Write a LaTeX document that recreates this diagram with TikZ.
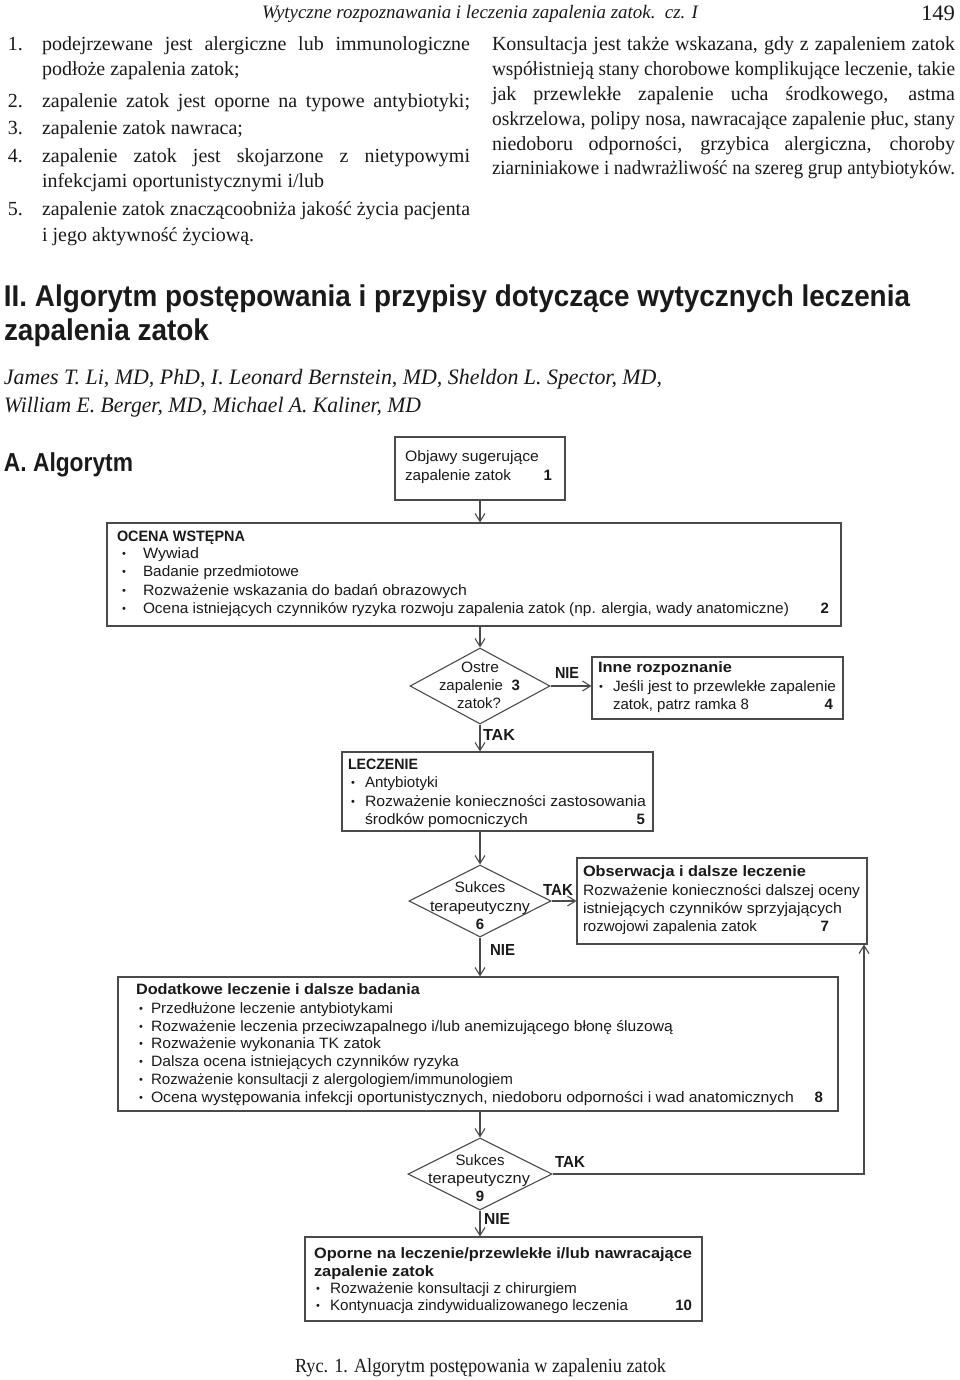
\documentclass[tikz,border=0pt]{standalone}
\usepackage{fontspec}
\usepackage{graphicx}
\setmainfont{Liberation Serif}
\newfontfamily\arfont{Liberation Sans}
\usetikzlibrary{arrows.meta,shapes.geometric}
\newlength\tmpw
\newcommand\jline[2]{\settowidth\tmpw{#2}\ifdim\tmpw>#1\relax\resizebox{#1}{\height}{#2}\else\makebox[#1][s]{#2}\fi}
\newcommand\fitw[2]{\resizebox{#1}{\height}{#2}}
\newcommand\bul[1]{\llap{\makebox[#1][l]{\raisebox{0.8pt}{\fontsize{11}{11}\selectfont\textbullet}}}}
\definecolor{ink}{HTML}{1A1A1A}
\definecolor{stroke}{HTML}{4A4A4A}
\begin{document}
\begin{tikzpicture}[x=1pt,y=-1pt,
  base/.style={inner sep=0pt, outer sep=0pt, text=ink},
  ser/.style={base, anchor=west, font=\fontsize{20}{24}\selectfont, text height=12pt, text depth=0pt},
  hd/.style={base, anchor=west, font=\itshape\fontsize{19}{19}\selectfont, text height=11pt, text depth=0pt},
  ttl/.style={base, anchor=west, font=\arfont\bfseries\fontsize{30}{30}\selectfont, text height=19pt, text depth=0pt},
  auth/.style={base, anchor=west, font=\itshape\fontsize{22}{22}\selectfont, text height=13pt, text depth=0pt},
  sx/.style={base, anchor=west, font=\arfont\fontsize{15}{18}\selectfont, text height=10pt, text depth=0pt},
  sb/.style={sx, font=\arfont\bfseries\fontsize{15}{18}\selectfont},
  num/.style={sb, anchor=east},
  lab/.style={base, anchor=west, font=\arfont\bfseries\fontsize{16}{16}\selectfont, text height=11.5pt, text depth=0pt},
  bx/.style={draw=stroke, line width=1.1pt, rectangle, inner sep=0pt},
  dm/.style={draw=stroke, line width=1.1pt, diamond, inner sep=0pt},
  conn/.style={draw=stroke, line width=1.1pt, -{Straight Barb[length=8pt,width=10pt]}}
]
\fill[white] (0,0) rectangle (960,1380);
\useasboundingbox (0,0) rectangle (960,1380);

% header
\node[hd] (hdr) at (262,13) {\fitw{436pt}{Wytyczne rozpoznawania i leczenia zapalenia zatok.\ \ cz. I}};
\node[base, anchor=east, font=\fontsize{22}{22}\selectfont, text height=15pt, text depth=0pt] (pgno) at (955,13) {\fitw{34pt}{149}};

% left column
\node[ser] (l1n) at (8,45) {1.};
\node[ser] (l1a) at (42,45) {\jline{428pt}{podejrzewane jest alergiczne lub immunologiczne}};
\node[ser] (l1b) at (42,70) {podłoże zapalenia zatok;};
\node[ser] (l2n) at (8,102) {2.};
\node[ser] (l2a) at (42,102) {\jline{428pt}{zapalenie zatok jest oporne na typowe antybiotyki;}};
\node[ser] (l3n) at (8,129) {3.};
\node[ser] (l3a) at (42,129) {zapalenie zatok nawraca;};
\node[ser] (l4n) at (8,157) {4.};
\node[ser] (l4a) at (42,157) {\jline{428pt}{zapalenie zatok jest skojarzone z nietypowymi}};
\node[ser] (l4b) at (42,182) {infekcjami oportunistycznymi i/lub};
\node[ser] (l5n) at (8,210) {5.};
\node[ser] (l5a) at (42,210) {\jline{428pt}{zapalenie zatok znaczącoobniża jakość życia pacjenta}};
\node[ser] (l5b) at (42,235) {i jego aktywność życiową.};

% right column
\node[ser] (r1) at (492,45) {\jline{463pt}{Konsultacja jest także wskazana, gdy z zapaleniem zatok}};
\node[ser] (r2) at (492,70) {\jline{463pt}{współistnieją stany chorobowe komplikujące leczenie, takie}};
\node[ser] (r3) at (492,95) {\jline{463pt}{jak przewlekłe zapalenie ucha środkowego, astma}};
\node[ser] (r4) at (492,120) {\jline{463pt}{oskrzelowa, polipy nosa, nawracające zapalenie płuc, stany}};
\node[ser] (r5) at (492,145) {\jline{463pt}{niedoboru odporności, grzybica alergiczna, choroby}};
\node[ser] (r6) at (492,169) {\jline{463pt}{ziarniniakowe i nadwrażliwość na szereg grup antybiotyków.}};

% title
\node[ttl] (ti1) at (4,297) {\fitw{906pt}{II. Algorytm postępowania i przypisy dotyczące wytycznych leczenia}};
\node[ttl] (ti2) at (4,331) {\fitw{205pt}{zapalenia zatok}};
\node[auth] (au1) at (4,378) {\fitw{658pt}{James T. Li, MD, PhD, I. Leonard Bernstein, MD, Sheldon L. Spector, MD,}};
\node[auth] (au2) at (4,406) {\fitw{417pt}{William E. Berger, MD, Michael A. Kaliner, MD}};
\node[base, anchor=west, font=\arfont\bfseries\fontsize{26}{26}\selectfont, text height=17pt, text depth=0pt] (alg) at (4,463) {\fitw{129pt}{A. Algorytm}};

% boxes
\node[bx, minimum width=170pt, minimum height=63pt] (b1) at (480,468.5) {};
\node[bx, minimum width=734pt, minimum height=103pt] (b2) at (474,574.5) {};
\node[dm, minimum width=140pt, minimum height=76pt] (d3) at (480,686) {};
\node[bx, minimum width=251pt, minimum height=62pt] (b4) at (717.5,688) {};
\node[bx, minimum width=311pt, minimum height=79pt] (b5) at (497.5,791.5) {};
\node[dm, minimum width=142pt, minimum height=72pt] (d6) at (480,901) {};
\node[bx, minimum width=290pt, minimum height=86pt] (b7) at (722,901) {};
\node[bx, minimum width=720pt, minimum height=134pt] (b8) at (478,1044) {};
\node[dm, minimum width=144pt, minimum height=72pt] (d9) at (480,1174) {};
\node[bx, minimum width=397pt, minimum height=84pt] (b10) at (503.5,1279) {};

% box 1
\node[sx] (t1a) at (405,456) {\fitw{134pt}{Objawy sugerujące}};
\node[sx] (t1b) at (405,475) {\fitw{106pt}{zapalenie zatok}};
\node[num] (t1n) at (552,475) {1};
% box 2
\node[sb] (t2h) at (117,536) {\fitw{128pt}{OCENA WSTĘPNA}};
\node[sx] (t2a) at (143,553) {\bul{21pt}\fitw{56pt}{Wywiad}};
\node[sx] (t2b) at (143,571) {\bul{21pt}\fitw{156pt}{Badanie przedmiotowe}};
\node[sx] (t2c) at (143,590) {\bul{21pt}\fitw{324pt}{Rozważenie wskazania do badań obrazowych}};
\node[sx] (t2d) at (143,608) {\bul{21pt}\fitw{646pt}{Ocena istniejących czynników ryzyka rozwoju zapalenia zatok (np. alergia, wady anatomiczne)}};
\node[num] (t2n) at (829,608) {2};
% diamond 3
\node[sx, anchor=center] (t3a) at (480,667) {\fitw{38pt}{Ostre}};
\node[sx] (t3b) at (439,685) {\fitw{64pt}{zapalenie}};
\node[num] (t3n) at (520,685) {3};
\node[sx, anchor=center] (t3c) at (479,703) {\fitw{44pt}{zatok?}};
% box 4
\node[sb] (t4h) at (598,667) {\fitw{134pt}{Inne rozpoznanie}};
\node[sx] (t4a) at (613,686) {\bul{14pt}\fitw{223pt}{Jeśli jest to przewlekłe zapalenie}};
\node[sx] (t4b) at (613,704) {\fitw{136pt}{zatok, patrz ramka 8}};
\node[num] (t4n) at (833,704) {4};
% box 5
\node[sb] (t5h) at (348,764) {\fitw{70pt}{LECZENIE}};
\node[sx] (t5a) at (365,782) {\bul{14pt}\fitw{73pt}{Antybiotyki}};
\node[sx] (t5b) at (365,801) {\bul{14pt}\fitw{281pt}{Rozważenie konieczności zastosowania}};
\node[sx] (t5c) at (365,819) {\fitw{163pt}{środków pomocniczych}};
\node[num] (t5n) at (645,819) {5};
% diamond 6
\node[sx, anchor=center] (t6a) at (480,887) {\fitw{51pt}{Sukces}};
\node[sx, anchor=center] (t6b) at (480,906) {\fitw{100pt}{terapeutyczny}};
\node[num, anchor=center] (t6n) at (480,924) {6};
% box 7
\node[sb] (t7h) at (583,871) {\fitw{223pt}{Obserwacja i dalsze leczenie}};
\node[sx] (t7a) at (583,890) {\fitw{277pt}{Rozważenie konieczności dalszej oceny}};
\node[sx] (t7b) at (583,908) {\fitw{259pt}{istniejących czynników sprzyjających}};
\node[sx] (t7c) at (583,926) {\fitw{174pt}{rozwojowi zapalenia zatok}};
\node[num] (t7n) at (829,926) {7};
% box 8
\node[sb] (t8h) at (136,989) {\fitw{284pt}{Dodatkowe leczenie i dalsze badania}};
\node[sx] (t8a) at (151,1008) {\bul{12pt}\fitw{242pt}{Przedłużone leczenie antybiotykami}};
\node[sx] (t8b) at (151,1026) {\bul{12pt}\fitw{522pt}{Rozważenie leczenia przeciwzapalnego i/lub anemizującego błonę śluzową}};
\node[sx] (t8c) at (151,1043) {\bul{12pt}\fitw{230pt}{Rozważenie wykonania TK zatok}};
\node[sx] (t8d) at (151,1061) {\bul{12pt}\fitw{308pt}{Dalsza ocena istniejących czynników ryzyka}};
\node[sx] (t8e) at (151,1079) {\bul{12pt}\fitw{362pt}{Rozważenie konsultacji z alergologiem/immunologiem}};
\node[sx] (t8f) at (151,1097) {\bul{12pt}\fitw{643pt}{Ocena występowania infekcji oportunistycznych, niedoboru odporności i wad anatomicznych}};
\node[num] (t8n) at (823,1097) {8};
% diamond 9
\node[sx, anchor=center] (t9a) at (480,1160) {\fitw{49pt}{Sukces}};
\node[sx, anchor=center] (t9b) at (479,1178) {\fitw{102pt}{terapeutyczny}};
\node[num, anchor=center] (t9n) at (480,1196) {9};
% box 10
\node[sb] (t10h) at (314,1253) {\fitw{378pt}{Oporne na leczenie/przewlekłe i/lub nawracające}};
\node[sb] (t10i) at (314,1271) {\fitw{120pt}{zapalenie zatok}};
\node[sx] (t10a) at (330,1288) {\bul{14pt}\fitw{247pt}{Rozważenie konsultacji z chirurgiem}};
\node[sx] (t10b) at (330,1305) {\bul{14pt}\fitw{298pt}{Kontynuacja zindywidualizowanego leczenia}};
\node[num] (t10n) at (692,1305) {10};

% labels
\node[lab] (l34) at (555,673) {\fitw{24pt}{NIE}};
\node[lab] (l35) at (483,735) {\fitw{32pt}{TAK}};
\node[lab] (l67) at (543,890) {\fitw{30pt}{TAK}};
\node[lab] (l68) at (490,950) {\fitw{25pt}{NIE}};
\node[lab] (l97) at (555,1162) {\fitw{30pt}{TAK}};
\node[lab] (l910) at (484,1219) {\fitw{26pt}{NIE}};

% connectors
\draw[conn] (b1.south) -- (b1.south |- b2.north);
\draw[conn] (d3.north |- b2.south) -- (d3.north);
\draw[conn] (d3.east) -- (d3.east -| b4.west);
\draw[conn] (d3.south) -- (d3.south |- b5.north);
\draw[conn] (d6.north |- b5.south) -- (d6.north);
\draw[conn] (d6.east) -- (d6.east -| b7.west);
\draw[conn] (d6.south) -- (d6.south |- b8.north);
\draw[conn] (d9.north |- b8.south) -- (d9.north);
\draw[conn] (d9.south) -- (d9.south |- b10.north);
\coordinate (c9) at (864,1174);
\draw[conn] (d9.east) -- (c9) -- (c9 |- b7.south);

% caption
\node[base, anchor=west, font=\fontsize{20}{20}\selectfont, text height=12pt, text depth=0pt] (cap) at (295,1366) {\fitw{371pt}{Ryc. 1. Algorytm postępowania w zapaleniu zatok}};
\end{tikzpicture}
\end{document}
